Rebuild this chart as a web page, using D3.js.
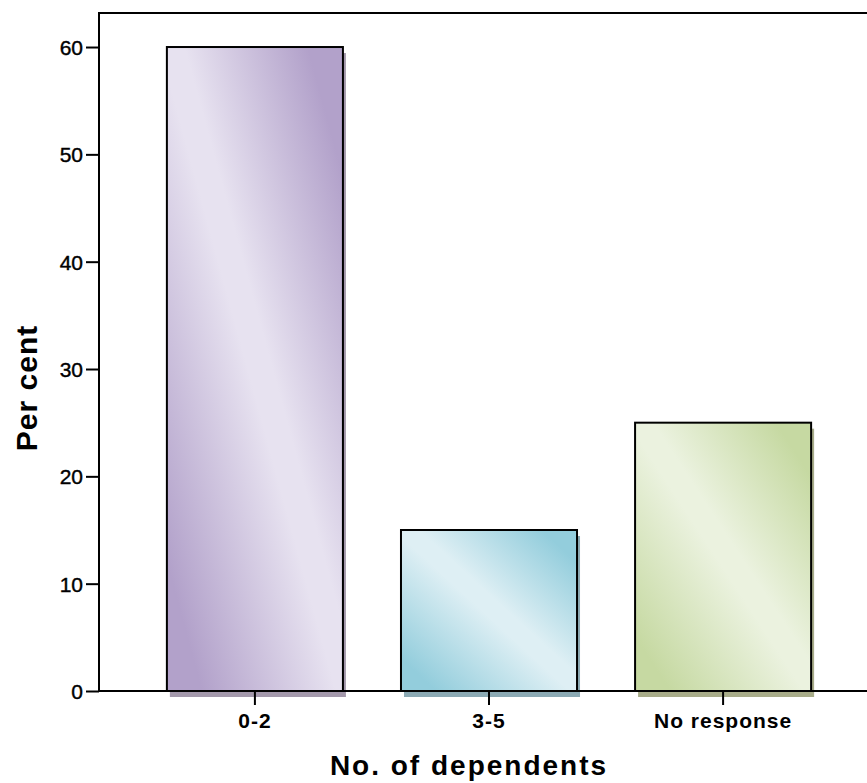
<!DOCTYPE html>
<html>
<head>
<meta charset="utf-8">
<script src="https://cdn.jsdelivr.net/npm/d3@7"></script>
<style>
  html, body { margin: 0; padding: 0; background: #fff; }
  svg { display: block; }
</style>
</head>
<body>
<svg id="chart" width="867" height="783"></svg>
<script>
const categories = ["0-2", "3-5", "No response"];
const values = [60, 15, 25];
const yTicks = [0, 10, 20, 30, 40, 50, 60];
const darkColors = ["#b2a1ca", "#93cddc", "#c6d9a2"];
const lightColors = ["#e7e2f0", "#deeff4", "#ebf2df"];
const shadowColors = ["#a398ab", "#8ba9b3", "#a8ac89"];
const xTitle = "No. of dependents";
const yTitle = "Per cent";

(function () {
const svg = d3.select("#chart");
const plotLeft = 99, plotTop = 13, plotBottom = 691, plotRight = 879;
const FONT = "Liberation Sans, Arial, Helvetica, sans-serif";

const x = d3.scaleBand().domain(categories).range([plotLeft, plotRight])
  .paddingInner(0.248).paddingOuter(0.29);
const y = d3.scaleLinear().domain([0, 63.17]).range([plotBottom, plotTop]);

const defs = svg.append("defs");
categories.forEach((c, i) => {
  const g = defs.append("linearGradient").attr("id", "grad" + i)
    .attr("x1", 0).attr("y1", 1).attr("x2", 1).attr("y2", 0);
  [[0, darkColors[i]], [0.1, darkColors[i]], [0.48, lightColors[i]], [0.55, lightColors[i]], [0.9, darkColors[i]], [1, darkColors[i]]]
    .forEach(([o, col]) => g.append("stop").attr("offset", o).attr("stop-color", col));
});

// frame (top & left border)
svg.append("rect").attr("x", plotLeft).attr("y", plotTop)
  .attr("width", plotRight - plotLeft).attr("height", plotBottom - plotTop)
  .attr("fill", "none").attr("stroke", "#000").attr("stroke-width", 2);

// shadows
svg.append("g").selectAll("rect").data(categories).join("rect")
  .attr("x", d => x(d) + 3)
  .attr("y", (d, i) => y(values[i]) + 6)
  .attr("width", x.bandwidth())
  .attr("height", (d, i) => plotBottom - y(values[i]))
  .attr("fill", (d, i) => shadowColors[i]);

// bars
svg.append("g").selectAll("rect").data(categories).join("rect")
  .attr("x", d => x(d))
  .attr("y", (d, i) => y(values[i]))
  .attr("width", x.bandwidth())
  .attr("height", (d, i) => plotBottom - y(values[i]))
  .attr("fill", (d, i) => `url(#grad${i})`)
  .attr("stroke", "#000").attr("stroke-width", 2);

// y axis
const yAxis = svg.append("g").attr("transform", `translate(${plotLeft},0)`)
  .call(d3.axisLeft(y).tickValues(yTicks).tickFormat(d3.format("d")).tickSize(13).tickPadding(3));
yAxis.select(".domain").remove();
yAxis.selectAll(".tick line").attr("stroke", "#000").attr("stroke-width", 2);
yAxis.selectAll(".tick text").attr("font-family", FONT).attr("font-weight", "normal")
  .attr("font-size", 21).attr("fill", "#000").attr("dy", "0.36em")
  .attr("stroke", "#000").attr("stroke-width", 0.4);

// x axis
const xAxis = svg.append("g").attr("transform", `translate(0,${plotBottom})`)
  .call(d3.axisBottom(x).tickSize(14).tickPadding(8));
xAxis.select(".domain").remove();
xAxis.selectAll(".tick line").attr("stroke", "#000").attr("stroke-width", 2);
xAxis.selectAll(".tick text").attr("font-family", FONT)
  .attr("font-size", 21).attr("font-weight", "bold").attr("letter-spacing", "1px")
  .attr("fill", "#000").attr("dy", "0.71em");

// baseline
svg.append("line").attr("x1", plotLeft).attr("x2", plotRight).attr("y1", plotBottom).attr("y2", plotBottom)
  .attr("stroke", "#000").attr("stroke-width", 2);

// titles
svg.append("text").attr("x", 469).attr("y", 775).attr("text-anchor", "middle")
  .attr("font-family", FONT).attr("font-weight", "bold")
  .attr("font-size", 28).attr("letter-spacing", "2px").text(xTitle);
svg.append("text").attr("transform", "translate(37,388) rotate(-90)").attr("text-anchor", "middle")
  .attr("font-family", FONT).attr("font-weight", "bold")
  .attr("font-size", 30).attr("letter-spacing", "1px").text(yTitle);
})();
</script>
</body>
</html>
